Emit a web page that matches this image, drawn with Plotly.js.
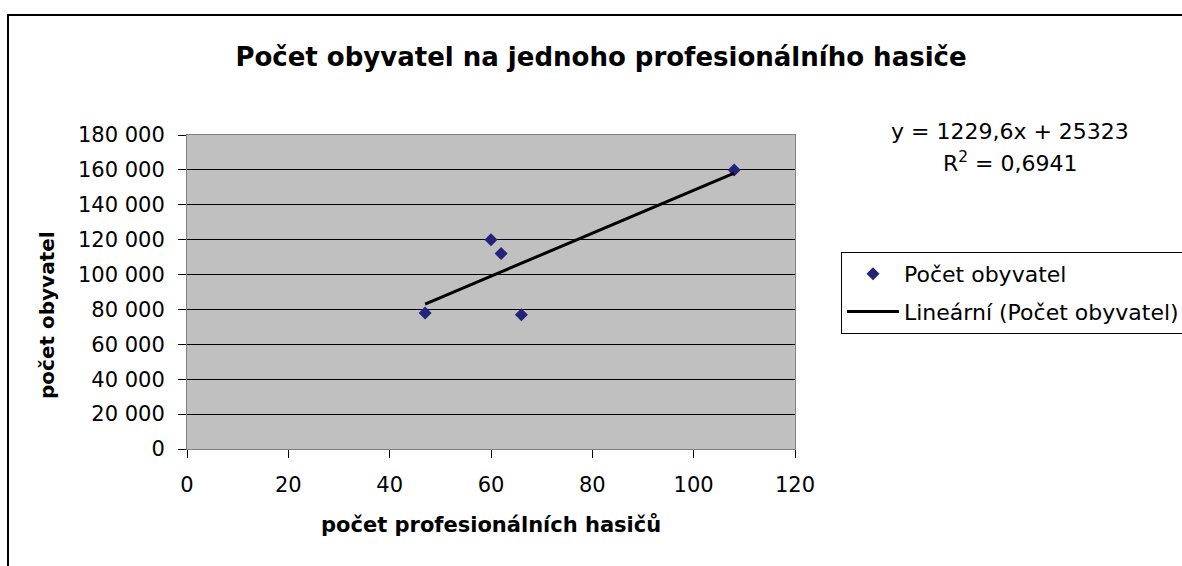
<!DOCTYPE html>
<html>
<head>
<meta charset="utf-8">
<script src="https://cdn.plot.ly/plotly-3.0.1.min.js"></script>
<style>
html,body{margin:0;padding:0;background:#fff;overflow:hidden;}
#chart{width:1182px;height:566px;}
</style>
</head>
<body>
<div id="chart"></div>
<script>
// Data
const hasici = [47, 60, 62, 66, 108];                     // počet profesionálních hasičů
const obyvatel = [78000, 120000, 112000, 77000, 160000];  // počet obyvatel
const trendSlope = 1229.6;
const trendIntercept = 25323;
const equationText = 'y = 1229,6x + 25323';
const r2Text = 'R<sup>2</sup> = 0,6941';
const xTicks = [0, 20, 40, 60, 80, 100, 120];
const yTicks = [0, 20000, 40000, 60000, 80000, 100000, 120000, 140000, 160000, 180000];

const xMin = Math.min(...hasici), xMax = Math.max(...hasici);
const trendX = [xMin, xMax];
const trendY = trendX.map(v => trendSlope * v + trendIntercept);

const FONT = 'DejaVu Sans, Liberation Sans, Arial, sans-serif';

const traces = [
  {
    type: 'scatter', mode: 'markers', name: 'Počet obyvatel',
    x: hasici, y: obyvatel,
    marker: {symbol: 'diamond', size: 10, color: '#23237a'},
    legendgroup: 'a'
  },
  {
    type: 'scatter', mode: 'lines', name: 'Lineární (Počet obyvatel)',
    x: trendX, y: trendY,
    line: {color: '#000000', width: 3},
    legendgroup: 'b'
  }
];

const L = 187, R = 795, T = 135, B = 449;
const pw = R - L, ph = B - T;
const px = v => (v - L) / pw;
const py = v => (B - v) / ph;

const layout = {
  width: 1182, height: 566,
  margin: {l: L, r: 1182 - R, t: T, b: 566 - B, pad: 0, autoexpand: false},
  paper_bgcolor: '#ffffff',
  plot_bgcolor: '#c0c0c0',
  separators: ', ',
  font: {family: FONT, size: 21, color: '#000'},
  showlegend: true,
  title: {
    text: '<b>Počet obyvatel na jednoho profesionálního hasiče</b>',
    font: {family: FONT, size: 26, color: '#000'},
    x: 601 / 1182, xref: 'container', xanchor: 'center',
    y: 1 - 57 / 566, yref: 'container', yanchor: 'middle'
  },
  xaxis: {
    range: [0, 120], tickvals: xTicks, ticktext: xTicks.map(String),
    showgrid: false, zeroline: false,
    showline: true, linecolor: '#808080', linewidth: 1, mirror: true,
    ticks: 'outside', ticklen: 8, tickcolor: '#000', tickwidth: 1,
    tickfont: {family: FONT, size: 21},
    ticklabelstandoff: 9,
    fixedrange: true
  },
  yaxis: {
    range: [0, 180000], tickvals: yTicks, tickformat: ',d',
    showgrid: true, gridcolor: '#000000', gridwidth: 1, zeroline: false,
    showline: true, linecolor: '#808080', linewidth: 1, mirror: true,
    ticks: 'outside', ticklen: 8, tickcolor: '#000', tickwidth: 1,
    tickfont: {family: FONT, size: 21},
    ticklabelstandoff: 9,
    fixedrange: true
  },
  legend: {
    x: px(841), y: py(252), xanchor: 'left', yanchor: 'top',
    bgcolor: '#ffffff', bordercolor: '#000000', borderwidth: 1,
    font: {family: FONT, size: 22, color: '#000'},
    tracegroupgap: 6, itemwidth: 52
  },
  annotations: [
    {xref: 'paper', yref: 'paper', x: px(1010), y: py(131), text: equationText,
     showarrow: false, xanchor: 'center', yanchor: 'middle', font: {family: FONT, size: 22}},
    {xref: 'paper', yref: 'paper', x: px(1010), y: py(162), text: r2Text,
     showarrow: false, xanchor: 'center', yanchor: 'middle', font: {family: FONT, size: 22}},
    {xref: 'paper', yref: 'paper', x: 0.5, y: py(525), text: '<b>počet profesionálních hasičů</b>',
     showarrow: false, xanchor: 'center', yanchor: 'middle', font: {family: FONT, size: 21}},
    {xref: 'paper', yref: 'paper', x: px(47), y: py(315), text: '<b>počet obyvatel</b>', textangle: -90,
     showarrow: false, xanchor: 'center', yanchor: 'middle', font: {family: FONT, size: 20}}
  ],
  shapes: [
    {type: 'rect', xref: 'paper', yref: 'paper', layer: 'above',
     x0: px(8), x1: px(1300), y0: py(15), y1: py(700),
     line: {color: '#000', width: 2}, fillcolor: 'rgba(0,0,0,0)'}
  ]
};

Plotly.newPlot('chart', traces, layout, {displayModeBar: false, staticPlot: true});
</script>
</body>
</html>
